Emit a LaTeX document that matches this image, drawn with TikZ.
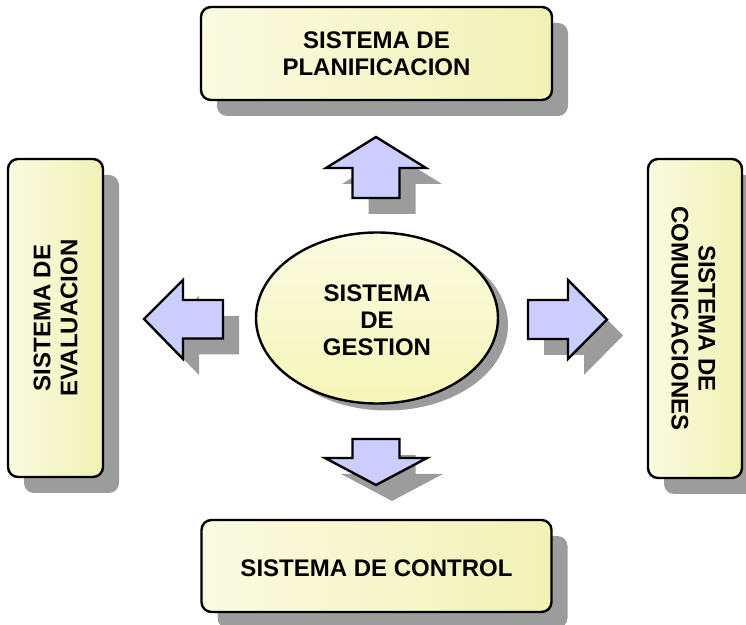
\documentclass[tikz,border=0pt]{standalone}
\usepackage{fontspec}
\setmainfont{Liberation Sans}
\usetikzlibrary{shapes,shadows,calc}
\definecolor{cajaclaro}{HTML}{FBFBE2}
\definecolor{cajaoscuro}{HTML}{F1F1B6}
\definecolor{elipse}{HTML}{F6F6B8}
\definecolor{flechaazul}{HTML}{CCCCFF}
\definecolor{sombra}{HTML}{9C9C9C}
\tikzset{
	caja/.style = {draw, line width=1.2pt, rounded corners=5pt, left color=cajaclaro, right color=cajaoscuro,
		drop shadow={shadow xshift=8pt, shadow yshift=-8pt, fill=sombra, opacity=1}, inner sep=0pt},
	titulo/.style = {font=\fontsize{12}{13.5}\selectfont\bfseries, align=center},
	flecha/.style = {draw, line width=1.2pt, fill=flechaazul,
		drop shadow={shadow xshift=8pt, shadow yshift=-8pt, fill=sombra, opacity=1}}
}

\begin{document}
\begin{tikzpicture}[x=0.5pt, y=-0.5pt]
	\useasboundingbox (0,0) rectangle (746,625);
	% cajas de los cuatro sistemas
	\node[caja, minimum width=175.5pt, minimum height=46.5pt] (planificacion) at (376.5,53.5) {};
	\node[caja, minimum width=47.5pt, minimum height=159pt] (evaluacion) at (55.5,318) {};
	\node[caja, minimum width=47pt, minimum height=159.5pt] (comunicaciones) at (695,318.5) {};
	\node[caja, minimum width=175pt, minimum height=46pt] (control) at (376.5,566) {};
	\node[titulo] (txtplanificacion) at (planificacion) {SISTEMA DE\\PLANIFICACION};
	\node[titulo, rotate=90] (txtevaluacion) at (evaluacion) {SISTEMA DE\\EVALUACION};
	\node[titulo, rotate=-90] (txtcomunicaciones) at ($(comunicaciones)+(-1.5,0)$) {SISTEMA DE\\COMUNICACIONES};
	\node[titulo] (txtcontrol) at ($(control)+(0,2)$) {SISTEMA DE CONTROL};
	% sistema central
	\node[ellipse, draw, line width=1.2pt, inner sep=0pt, minimum width=121pt, minimum height=85.5pt,
		top color=cajaclaro, bottom color=elipse,
		drop shadow={shadow xshift=5pt, shadow yshift=-3.5pt, fill=sombra, opacity=1}] (gestion) at (377,318) {};
	\node[titulo] (txtgestion) at (377,320) {SISTEMA\\DE\\GESTION};
	% flechas
	\path[flecha] (376,137) -- (426,168) -- (399.5,168) -- (399.5,198) -- (352.5,198) -- (352.5,168) -- (326,168) -- cycle;
	\path[flecha] (376,485) -- (427,458) -- (399.5,458) -- (399.5,439) -- (352.5,439) -- (352.5,458) -- (325,458) -- cycle;
	\path[flecha] (144,319) -- (183,280) -- (183,300) -- (223,300) -- (223,338.5) -- (183,338.5) -- (183,359) -- cycle;
	\path[flecha] (607,319.5) -- (568,280) -- (568,300) -- (528,300) -- (528,339) -- (568,339) -- (568,359) -- cycle;
\end{tikzpicture}
\end{document}
